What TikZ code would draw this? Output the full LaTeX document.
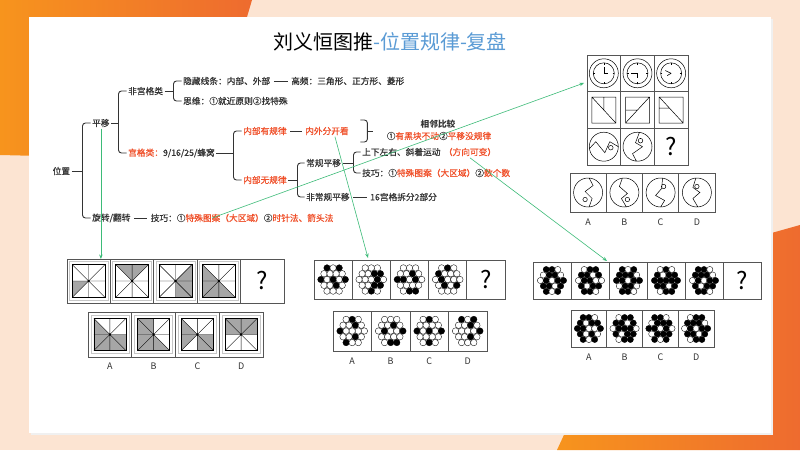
\documentclass[tikz,border=0pt]{standalone}
\usepackage{fontspec}
\setmainfont{Noto Sans CJK SC}
\newfontfamily\mmfont{Noto Sans CJK SC}[FakeBold=0.6]
\usetikzlibrary{arrows.meta,positioning}

\definecolor{txt}{HTML}{333333}
\definecolor{hired}{HTML}{F0502A}
\definecolor{tblue}{HTML}{5A9BD5}
\definecolor{lgreen}{HTML}{3DBB78}
\definecolor{peach}{HTML}{FCE4D2}
\definecolor{orgA}{HTML}{F7941D}
\definecolor{orgB}{HTML}{EE6B2F}
\definecolor{shd}{HTML}{A6A6A6}
\definecolor{frm}{HTML}{555555}

% honeycomb of 19 circles, pattern of 0/1
\newcommand{\honey}[4]{%
  \foreach \hv [count=\hi] in {#4} {
    \pgfmathsetmacro\hx{{-1,0,1,-1.5,-0.5,0.5,1.5,-2,-1,0,1,2,-1.5,-0.5,0.5,1.5,-1,0,1}[\hi-1]}
    \pgfmathsetmacro\hy{{-2,-2,-2,-1,-1,-1,-1,0,0,0,0,0,1,1,1,1,2,2,2}[\hi-1]}
    \ifnum\hv=1 \def\hf{black}\else\def\hf{white}\fi
    \draw[line width=0.35pt, fill=\hf] ({#1+\hx*#3},{#2+\hy*#3*0.95}) circle ({#3*0.53});
  }%
}
% square cut in 8 wedges, shaded wedges listed
\newcommand{\sqfig}[4]{%
  \draw[gray!45, line width=0.4pt] (#1-#3-3,#2-#3-3) rectangle (#1+#3+3,#2+#3+3);
  \begin{scope}
    \clip (#1-#3,#2-#3) rectangle (#1+#3,#2+#3);
    \foreach \w in {#4}
      \fill[shd] (#1,#2) -- +({\w*45}:{3*#3}) -- +({\w*45+45}:{3*#3}) -- cycle;
  \end{scope}
  \draw[line width=0.5pt] (#1-#3,#2-#3) rectangle (#1+#3,#2+#3);
  \draw[line width=0.4pt] (#1-#3,#2-#3) -- (#1+#3,#2+#3) (#1-#3,#2+#3) -- (#1+#3,#2-#3)
    (#1,#2-#3) -- (#1,#2+#3) (#1-#3,#2) -- (#1+#3,#2);
  \fill (#1,#2) circle (1.1);
}

\begin{document}
\begin{tikzpicture}[x=1pt,y=-1pt]
  \tikzstyle{every node}+=[inner sep=1.5pt]
  \tikzstyle{mm}=[anchor=west, text=txt, font=\mmfont\fontsize{8.7}{10}\selectfont]
  \tikzstyle{brk}=[draw=txt, line width=0.9pt, rounded corners=3pt]
  \tikzstyle{link}=[draw=lgreen, line width=0.6pt, -{Stealth[length=4.5pt,width=3.5pt]}]
  \tikzstyle{frame}=[draw=frm, line width=0.7pt, inner sep=0pt, anchor=north west]
  \tikzstyle{lab}=[text=txt, font=\fontsize{9}{10}\selectfont]
  \tikzstyle{qmark}=[text=black, font=\fontsize{24}{26}\selectfont]
  \useasboundingbox (0,0) rectangle (800,450);

  % background and card
  \fill[peach] (0,0) rectangle (800,450);
  \shade[left color=orgA, right color=orgB] (0,0) -- (252,0) -- (205,160) -- (0,155) -- cycle;
  \shade[left color=orgA, right color=orgB] (557,450) -- (640,270) -- (800,225) -- (800,450) -- cycle;
  \fill[black!6] (30.5,18.5) rectangle (772.5,434.5);
  \fill[white] (29,17) rectangle (771,433);

  \node[text=black, font=\fontsize{20}{22}\selectfont] (title) at (390,42) {刘义恒图推\textcolor{tblue}{-位置规律-复盘}};

  % mind map
  \node[mm] (weizhi) at (51,171) {位置};
  \node[mm] (pingyi) at (90.5,123) {平移};
  \node[mm] (xuanzhuan) at (90.5,218) {旋转/翻转};
  \node[mm] (feigong) at (126.5,91) {非宫格类};
  \node[mm] (gongge) at (126.5,153) {\textcolor{hired}{宫格类：}9/16/25/蜂窝};
  \node[mm] (yincang) at (181.5,81) {隐藏线条：内部、外部};
  \node[mm] (gaopin) at (289.5,81) {高频：三角形、正方形、菱形};
  \node[mm] (siwei) at (181.5,101) {思维：①就近原则②找特殊};
  \node[mm, text=hired] (youguilv) at (241.5,131) {内部有规律};
  \node[mm, text=hired] (neiwai) at (303.5,131) {内外分开看};
  \node[mm, text=hired] (wuguilv) at (241.5,180) {内部无规律};
  \node[mm] (changgui) at (304.5,163) {常规平移};
  \node[mm] (feichang) at (304.5,197) {非常规平移};
  \node[mm] (chaifen) at (368.5,197) {16宫格拆分2部分};
  \node[mm] (shangxia) at (360.5,152) {上下左右、斜着运动};
  \node[mm, text=hired, right=0pt of shangxia] (fangxiang) {（方向可变）};
  \node[mm] (jiqiao2) at (360.5,173) {技巧：①\textcolor{hired}{特殊图案（大区域）}②\textcolor{hired}{数个数}};
  \node[mm, anchor=center, font=\fontsize{8.7}{10}\selectfont\bfseries] (xiangling) at (438,124) {相邻比较};
  \node[mm, anchor=center] (heikuai) at (439,136) {①\textcolor{hired}{有黑块不动}②\textcolor{hired}{平移没规律}};
  \node[mm] (jiqiao1) at (149,218) {技巧：①\textcolor{hired}{特殊图案（大区域）}②\textcolor{hired}{时针法、箭头法}};

  \draw[brk] (pingyi.west) -- ++(-8,0) coordinate (v0) |- (xuanzhuan.west);
  \draw[brk] (weizhi.east) -- (weizhi.east -| v0);
  \draw[brk] (feigong.west) -- ++(-8,0) coordinate (v1) |- (gongge.west);
  \draw[brk] (pingyi.east) -- (pingyi.east -| v1);
  \draw[brk] (yincang.west) -- ++(-8,0) coordinate (v2) |- (siwei.west);
  \draw[brk] (feigong.east) -- (feigong.east -| v2);
  \draw[brk] (youguilv.west) -- ++(-8,0) coordinate (v3) |- (wuguilv.west);
  \draw[brk] (gongge.east) -- (gongge.east -| v3);
  \draw[brk] (changgui.west) -- ++(-7,0) coordinate (v4) |- (feichang.west);
  \draw[brk] (wuguilv.east) -- (wuguilv.east -| v4);
  \draw[brk] (shangxia.west) -- ++(-7,0) coordinate (v5) |- (jiqiao2.west);
  \draw[brk] (changgui.east) -- (changgui.east -| v5);
  \draw[brk, shorten <=2pt, shorten >=2pt] (yincang.east) -- (gaopin.west);
  \draw[brk, shorten <=2pt, shorten >=2pt] (youguilv.east) -- (neiwai.west);
  \draw[brk, shorten <=2pt, shorten >=2pt] (xuanzhuan.east) -- (jiqiao1.west);
  \draw[brk, shorten <=2pt, shorten >=2pt] (feichang.east) -- (chaifen.west);
  \draw[brk] ([xshift=10pt,yshift=11pt]neiwai.east) -- ++(7,0) -- ++(0,22) -- ++(-7,0);
  \draw[brk] ([xshift=17pt]neiwai.east) -- ++(6,0);

  % squares puzzle
  \node[frame, minimum width=217pt, minimum height=44pt] (sqq) at (67,259) {};
  \foreach \k in {1,...,4} \draw[frame] (67+\k*43.4,259) -- ++(0,44);
  \sqfig{88.7}{281}{16.5}{3}
  \sqfig{132.1}{281}{16.5}{5,6}
  \sqfig{175.5}{281}{16.5}{7,0,1}
  \sqfig{218.9}{281}{16.5}{4,3,2,1}
  \node[qmark] (sqmark) at (262.3,281) {?};
  \node[frame, minimum width=175pt, minimum height=45pt] (sqo) at (88,312) {};
  \foreach \k in {1,...,3} \draw[frame] (88+\k*43.75,312) -- ++(0,45);
  \sqfig{109.9}{334.5}{16}{4,3,2,1,0}
  \sqfig{153.6}{334.5}{16}{5,4,3,2,1}
  \sqfig{197.4}{334.5}{16}{4,3,1,0}
  \sqfig{241.1}{334.5}{16}{5,6,7,4}
  \node[lab] (sqa) at (109.9,366) {A};
  \node[lab] (sqb) at (153.6,366) {B};
  \node[lab] (sqc) at (197.4,366) {C};
  \node[lab] (sqd) at (241.1,366) {D};

  % honeycomb puzzle, few black
  \node[frame, minimum width=191pt, minimum height=39pt] (hxq) at (314,260) {};
  \foreach \k in {1,...,4} \draw[frame] (314+\k*38.2,260) -- ++(0,39);
  \honey{333.1}{279.5}{6.1}{1,0,1, 0,0,0,0, 1,0,1,0,1, 0,0,1,0, 0,0,0}
  \honey{371.3}{279.5}{6.1}{0,0,0, 0,0,1,1, 0,0,0,1,0, 0,0,1,1, 0,1,0}
  \honey{409.5}{279.5}{6.1}{0,0,0, 0,0,1,0, 1,1,0,1,0, 0,0,0,0, 0,1,1}
  \honey{447.7}{279.5}{6.1}{0,1,0, 1,0,0,0, 0,1,0,0,0, 0,1,0,1, 0,0,0}
  \node[qmark] (hxmark) at (485.9,279.5) {?};
  \node[frame, minimum width=154pt, minimum height=40pt] (hxo) at (333,311) {};
  \foreach \k in {1,...,3} \draw[frame] (333+\k*38.5,311) -- ++(0,40);
  \honey{352.2}{331}{6.1}{0,1,0, 0,0,1,0, 1,0,0,0,0, 0,0,1,0, 1,0,0}
  \honey{390.7}{331}{6.1}{0,0,0, 0,0,1,0, 0,1,0,0,1, 0,0,0,0, 0,1,1}
  \honey{429.2}{331}{6.1}{0,1,0, 0,0,0,0, 1,0,1,0,1, 0,0,0,0, 0,1,0}
  \honey{467.7}{331}{6.1}{1,0,1, 0,0,1,0, 0,0,0,0,1, 0,0,1,0, 0,0,0}
  \node[lab] (hxa) at (352.2,361) {A};
  \node[lab] (hxb) at (390.7,361) {B};
  \node[lab] (hxc) at (429.2,361) {C};
  \node[lab] (hxd) at (467.7,361) {D};

  % honeycomb puzzle, many black
  \node[frame, minimum width=228pt, minimum height=37pt] (hbq) at (533,262) {};
  \foreach \k in {1,...,5} \draw[frame] (533+\k*38,262) -- ++(0,37);
  \honey{552}{280.5}{5.8}{1,1,0, 0,1,1,0, 0,1,0,1,1, 1,1,0,1, 1,0,1}
  \honey{590}{280.5}{5.8}{0,1,1, 1,1,0,1, 0,1,1,0,0, 1,0,1,1, 1,1,0}
  \honey{628}{280.5}{5.8}{1,0,1, 1,1,1,0, 1,1,0,1,1, 0,1,1,0, 1,1,0}
  \honey{666}{280.5}{5.8}{0,1,0, 1,0,1,1, 1,1,1,1,1, 1,1,0,1, 0,1,1}
  \honey{704}{280.5}{5.8}{1,1,0, 1,1,1,0, 0,1,0,1,1, 1,0,1,1, 1,1,0}
  \node[qmark] (hbmark) at (742,280.5) {?};
  \node[frame, minimum width=143pt, minimum height=37pt] (hbo) at (571,310) {};
  \foreach \k in {1,...,3} \draw[frame] (571+\k*35.75,310) -- ++(0,37);
  \honey{588.9}{328.5}{5.8}{1,1,0, 1,0,1,1, 1,1,0,0,1, 1,0,1,0, 1,0,1}
  \honey{624.6}{328.5}{5.8}{0,1,1, 1,1,0,1, 0,1,1,1,0, 1,0,1,1, 0,1,1}
  \honey{660.4}{328.5}{5.8}{1,1,0, 0,1,1,1, 1,1,0,1,0, 0,1,1,1, 1,0,1}
  \honey{696.1}{328.5}{5.8}{0,1,1, 1,1,1,0, 0,1,0,1,1, 1,1,0,1, 0,1,1}
  \node[lab] (hba) at (588.9,357) {A};
  \node[lab] (hbb) at (624.6,357) {B};
  \node[lab] (hbc) at (660.4,357) {C};
  \node[lab] (hbd) at (696.1,357) {D};

  % 3x3 puzzle
  \node[frame, minimum width=101pt, minimum height=110pt] (grid) at (587,55) {};
  \draw[frame] (620.67,55) -- ++(0,110) (654.33,55) -- ++(0,110)
    (587,91.67) -- ++(101,0) (587,128.33) -- ++(101,0);
  \foreach \k/\ha/\hb in {0/270/0, 1/180/90, 2/205/150} {
    \begin{scope}[shift={(603.8+\k*33.67,73.3)}]
      \draw[line width=0.5pt] (0,0) circle (14.5) (0,0) circle (10.5);
      \draw[line width=0.6pt] (0,0) -- (\ha:6.5) (0,0) -- (\hb:4.5);
      \foreach \t in {0,90,180,270} \draw[line width=0.4pt] (\t:8.8) -- (\t:10.5);
    \end{scope}}
  \begin{scope}[shift={(603.8,110)}, line width=0.5pt]
    \draw (-12,-13) rectangle (12,13) (-12,-13) -- (12,13) (0,-13) -- (0,0);
  \end{scope}
  \begin{scope}[shift={(637.5,110)}, line width=0.5pt]
    \draw (-12,-13) rectangle (12,13) (-12,13) -- (12,-13) (-12,0) -- (0,0);
  \end{scope}
  \begin{scope}[shift={(671.2,110)}, line width=0.5pt]
    \draw (-12,-13) rectangle (12,13) (-12,-13) -- (12,13) (-12,-2) -- (-1.8,-2);
  \end{scope}
  \begin{scope}[shift={(603.8,146.7)}, line width=0.5pt]
    \draw (0,0) circle (14.5) (-14.5,2) -- (-8,-5) -- (1,6) -- (6,-5) -- (14.5,0) (7,1) circle (2.3);
  \end{scope}
  \begin{scope}[shift={(637.5,146.7)}, line width=0.5pt]
    \draw (0,0) circle (14.5) (2,-14.5) -- (-2,-4) -- (5,0) -- (-5,7) -- (-1,14.5) (3,-6) circle (2.3);
  \end{scope}
  \node[qmark] (gridmark) at (671.2,146.7) {?};
  \node[frame, minimum width=145pt, minimum height=39pt] (gopt) at (570,173) {};
  \foreach \k in {1,...,3} \draw[frame] (570+\k*36.25,173) -- ++(0,39);
  \begin{scope}[shift={(588.1,192.5)}, line width=0.5pt]
    \draw (0,0) circle (14.5) (1,-14.5) -- (5,-7) -- (-3,-1) -- (4,6) -- (1,14.5) (-3,7) circle (2.2);
  \end{scope}
  \begin{scope}[shift={(624.4,192.5)}, line width=0.5pt]
    \draw (0,0) circle (14.5) (-2,-14.5) -- (-5,-6) -- (3,1) -- (-3,6) -- (2,14.5) (3,7) circle (2.2);
  \end{scope}
  \begin{scope}[shift={(660.6,192.5)}, line width=0.5pt]
    \draw (0,0) circle (14.5) (2,-14.5) -- (1,-4) -- (-5,3) -- (4,8) -- (0,14.5) (3,-6) circle (2.2);
  \end{scope}
  \begin{scope}[shift={(696.9,192.5)}, line width=0.5pt]
    \draw (0,0) circle (14.5) (-1,-14.5) -- (-4,-5) -- (3,0) -- (-4,6) -- (1,14.5) (0,-6) circle (2.2);
  \end{scope}
  \node[lab] (ga) at (588.1,222) {A};
  \node[lab] (gb) at (624.4,222) {B};
  \node[lab] (gc) at (660.6,222) {C};
  \node[lab] (gd) at (696.9,222) {D};

  % links
  \coordinate (hxin) at (368,258);
  \coordinate (hbin) at (607,261);
  \coordinate (gridin) at (584,83);
  \draw[link] (pingyi.south) -- (pingyi.south |- sqq.north);
  \draw[link] ([xshift=8pt]neiwai.south) -- (hxin);
  \draw[link] ([xshift=63pt]jiqiao1.west) -- (gridin);
  \draw[link] (fangxiang.south) -- (hbin);
\end{tikzpicture}
\end{document}
